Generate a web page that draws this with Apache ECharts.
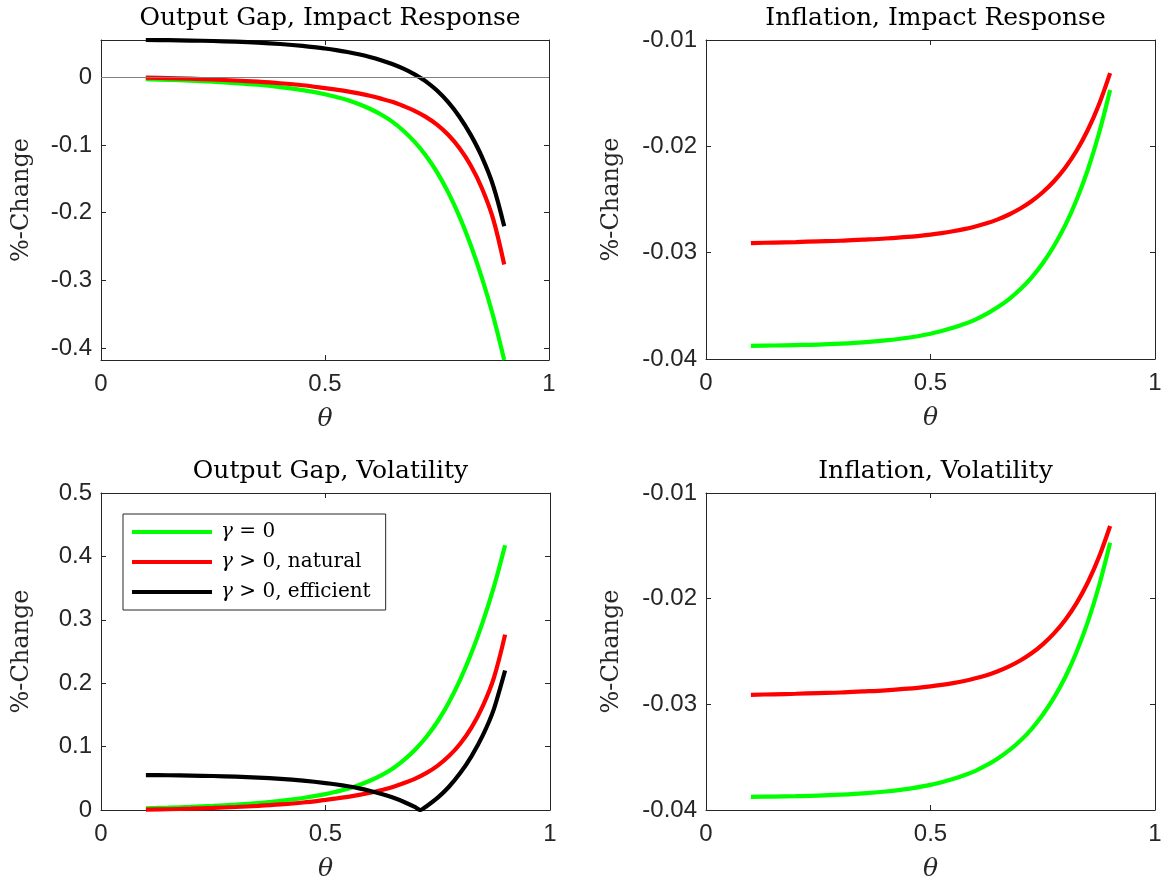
<!DOCTYPE html>
<html>
<head>
<meta charset="utf-8">
<script src="https://cdn.jsdelivr.net/npm/echarts@6/dist/echarts.min.js"></script>
<style>html,body{margin:0;padding:0;background:#fff}#c{width:1166px;height:884px}</style>
</head>
<body>
<div id="c"></div>
<script>
// ---------- data ----------
const theta = [0.1,0.15,0.2,0.25,0.3,0.35,0.4,0.45,0.5,0.525,0.55,0.575,0.6,0.625,0.65,0.675,0.7,0.725,0.75,0.775,0.8,0.825,0.85,0.875,0.9];
const thetaBlack = [0.1,0.15,0.2,0.25,0.3,0.35,0.4,0.45,0.5,0.525,0.55,0.575,0.6,0.625,0.65,0.675,0.7,0.711,0.725,0.75,0.775,0.8,0.825,0.85,0.875,0.9];

// Output gap, impact response
const ygImpGreen = [-0.0028,-0.0038,-0.005,-0.0065,-0.0085,-0.011,-0.0145,-0.019,-0.025,-0.029,-0.0335,-0.0395,-0.0465,-0.055,-0.0655,-0.079,-0.0955,-0.1155,-0.14,-0.17,-0.2055,-0.2475,-0.296,-0.352,-0.4177];
const ygImpRed   = [-0.0005,-0.0012,-0.0021,-0.0033,-0.0047,-0.0065,-0.0088,-0.0118,-0.016,-0.0183,-0.0208,-0.0238,-0.0273,-0.0315,-0.0363,-0.0425,-0.0495,-0.0585,-0.07,-0.085,-0.1045,-0.13,-0.1635,-0.2085,-0.2766];
const ygImpBlack = [0.0551,0.0548,0.0543,0.0536,0.0526,0.0512,0.0492,0.0464,0.0425,0.0402,0.0374,0.0341,0.0301,0.0253,0.0196,0.0127,0.0044,0,-0.006,-0.0195,-0.0367,-0.0582,-0.0847,-0.1172,-0.1592,-0.22];

// Inflation, impact response
const piImpGreen = [-0.03876,-0.03873,-0.03869,-0.03864,-0.03855,-0.03843,-0.03825,-0.038,-0.03762,-0.03737,-0.03707,-0.03671,-0.03629,-0.03576,-0.03512,-0.03436,-0.03344,-0.03234,-0.03099,-0.02937,-0.02744,-0.02507,-0.02225,-0.01882,-0.0147];
const piImpRed   = [-0.0291,-0.02905,-0.029,-0.02894,-0.02888,-0.02878,-0.02867,-0.02852,-0.0283,-0.02816,-0.02799,-0.02779,-0.02754,-0.02724,-0.02687,-0.02641,-0.02585,-0.02517,-0.02432,-0.02328,-0.02201,-0.02044,-0.01849,-0.01609,-0.01312];

// Output gap, volatility
const ygVolGreen = [0.0028,0.0038,0.005,0.0065,0.0085,0.011,0.0145,0.019,0.025,0.029,0.0335,0.0395,0.0465,0.055,0.0655,0.079,0.0955,0.1155,0.14,0.17,0.2055,0.2475,0.296,0.352,0.4177];
const ygVolRed   = [0.0005,0.0012,0.0021,0.0033,0.0047,0.0065,0.0088,0.0118,0.016,0.0183,0.0208,0.0238,0.0273,0.0315,0.0363,0.0425,0.0495,0.0585,0.07,0.085,0.1045,0.13,0.1635,0.2085,0.2766];
const ygVolBlack = [0.0551,0.0548,0.0543,0.0536,0.0526,0.0512,0.0492,0.0464,0.0425,0.0402,0.0374,0.0341,0.0301,0.0253,0.0196,0.0127,0.0044,0,0.006,0.0195,0.0367,0.0582,0.0847,0.1172,0.1592,0.22];

// Inflation, volatility
const piVolGreen = [-0.03876,-0.03873,-0.03869,-0.03864,-0.03855,-0.03843,-0.03825,-0.038,-0.03762,-0.03737,-0.03707,-0.03671,-0.03629,-0.03576,-0.03512,-0.03436,-0.03344,-0.03234,-0.03099,-0.02937,-0.02744,-0.02507,-0.02225,-0.01882,-0.0147];
const piVolRed   = [-0.0291,-0.02905,-0.029,-0.02894,-0.02888,-0.02878,-0.02867,-0.02852,-0.0283,-0.02816,-0.02799,-0.02779,-0.02754,-0.02724,-0.02687,-0.02641,-0.02585,-0.02517,-0.02432,-0.02328,-0.02201,-0.02044,-0.01849,-0.01609,-0.01312];

const titles = ['Output Gap, Impact Response','Inflation, Impact Response','Output Gap, Volatility','Inflation, Volatility'];
const seriesNames = ['\u03b3 = 0','\u03b3 > 0, natural','\u03b3 > 0, efficient'];
const xTicks = [0,0.5,1];
const yTicksOgImp = [-0.4,-0.3,-0.2,-0.1,0];
const yTicksOgVol = [0,0.1,0.2,0.3,0.4,0.5];
const yTicksPi = [-0.04,-0.03,-0.02,-0.01];
const yLabel = '%-Change';
const xLabel = '\u03b8';

// ---------- layout ----------
const grids = [
  {left:101, top:40, width:448, height:320},
  {left:706, top:40, width:449, height:319},
  {left:101, top:493, width:449, height:317},
  {left:706, top:493, width:449, height:317}
];
const yRanges = [
  {min:-0.4177, max:0.0551, ticks:yTicksOgImp},
  {min:-0.04, max:-0.01, ticks:yTicksPi},
  {min:0, max:0.5, ticks:yTicksOgVol},
  {min:-0.04, max:-0.01, ticks:yTicksPi}
];
const AX = '#262626';
const sans = 'Liberation Sans, Arial, sans-serif';
const serif = 'DejaVu Serif, serif';
const fmt = v => { const r = parseFloat(Number(v).toFixed(4)); return r === 0 ? '0' : String(r); };

const xAxes = [], yAxes = [], series = [], titleArr = [];
grids.forEach((g, i) => {
  xAxes.push({
    gridIndex:i, type:'value', min:0, max:1, interval:0.5, position:'bottom',
    name:xLabel, nameLocation:'middle', nameGap:47,
    nameTextStyle:{fontFamily:serif, fontStyle:'italic', fontSize:25, color:'#262626'},
    axisLine:{show:true, onZero:false, lineStyle:{color:AX, width:1}},
    axisTick:{show:true, inside:true, length:5, lineStyle:{color:AX}},
    axisLabel:{show:true, margin:12, fontFamily:sans, fontSize:24, color:'#262626', formatter:fmt, customValues:xTicks},
    splitLine:{show:false}
  });
  xAxes.push({
    gridIndex:i, type:'value', min:0, max:1, interval:0.5, position:'top',
    axisLine:{show:true, onZero:false, lineStyle:{color:AX, width:1}},
    axisTick:{show:true, inside:true, length:5, lineStyle:{color:AX}},
    axisLabel:{show:false}, splitLine:{show:false}
  });
  const yr = yRanges[i];
  yAxes.push({
    gridIndex:i, type:'value', min:yr.min, max:yr.max, position:'left',
    name:yLabel, nameLocation:'middle', nameGap: i % 2 === 0 ? 67 : 82,
    nameTextStyle:{fontFamily:serif, fontSize:24, color:'#262626'},
    axisLine:{show:true, onZero:false, lineStyle:{color:AX, width:1}},
    axisTick:{show:true, inside:true, length:5, lineStyle:{color:AX}, customValues:yr.ticks},
    axisLabel:{show:true, margin:9, fontFamily:sans, fontSize:24, color:'#262626', formatter:fmt, customValues:yr.ticks},
    splitLine:{show:false}
  });
  yAxes.push({
    gridIndex:i, type:'value', min:yr.min, max:yr.max, position:'right',
    axisLine:{show:true, onZero:false, lineStyle:{color:AX, width:1}},
    axisTick:{show:true, inside:true, length:5, lineStyle:{color:AX}, customValues:yr.ticks},
    axisLabel:{show:false}, splitLine:{show:false}
  });
  titleArr.push({
    text:titles[i], left:g.left + g.width/2, top: g.top - 39, textAlign:'center',
    textStyle:{fontFamily:serif, fontWeight:'normal', fontSize:25, color:'#000'}
  });
});

const colors = ['#00ff00','#ff0000','#000000'];
function addSeries(gi, nameIdx, xs, ys, extra) {
  const s = {
    name: seriesNames[nameIdx], type:'line', xAxisIndex: gi*2, yAxisIndex: gi*2,
    data: xs.map((x, k) => [x, ys[k]]),
    showSymbol:false, symbol:'none', smooth:0.35,
    lineStyle:{color:colors[nameIdx], width:4.2}, itemStyle:{color:colors[nameIdx]},
    silent:true, animation:false
  };
  if (extra) Object.assign(s, extra);
  series.push(s);
}
addSeries(0, 0, theta, ygImpGreen, {
  markLine:{silent:true, symbol:['none','none'], label:{show:false},
    lineStyle:{color:'#808080', width:1, type:'solid'}, data:[{yAxis:0}], animation:false}
});
addSeries(0, 1, theta, ygImpRed);
addSeries(0, 2, thetaBlack, ygImpBlack);
addSeries(1, 0, theta, piImpGreen);
addSeries(1, 1, theta, piImpRed);
addSeries(2, 0, theta, ygVolGreen);
addSeries(2, 1, theta, ygVolRed);
addSeries(2, 2, thetaBlack, ygVolBlack, {smooth:0.2});
addSeries(3, 0, theta, piVolGreen);
addSeries(3, 1, theta, piVolRed);

const chart = echarts.init(document.getElementById('c'), null, {renderer:'canvas'});
chart.setOption({
  animation:false,
  backgroundColor:'#ffffff',
  title: titleArr,
  grid: grids.map(g => Object.assign({containLabel:false}, g)),
  xAxis: xAxes,
  yAxis: yAxes,
  legend: {
    data: seriesNames, orient:'vertical', left:123, top:514,
    backgroundColor:'#ffffff', borderColor:'#262626', borderWidth:1, borderRadius:0,
    padding:[8,15,8,9], itemGap:10, itemWidth:80, itemHeight:20,
    icon:'path://M0,8 L80,8 L80,12 L0,12 Z',
    selectedMode:false,
    formatter: n => '{g|\u03b3}' + n.slice(1),
    textStyle:{fontFamily:serif, fontSize:20, color:'#000', padding:[0,0,0,4],
      rich:{g:{fontFamily:serif, fontStyle:'italic', fontSize:20, color:'#000'}}}
  },
  series: series
});
</script>
</body>
</html>
